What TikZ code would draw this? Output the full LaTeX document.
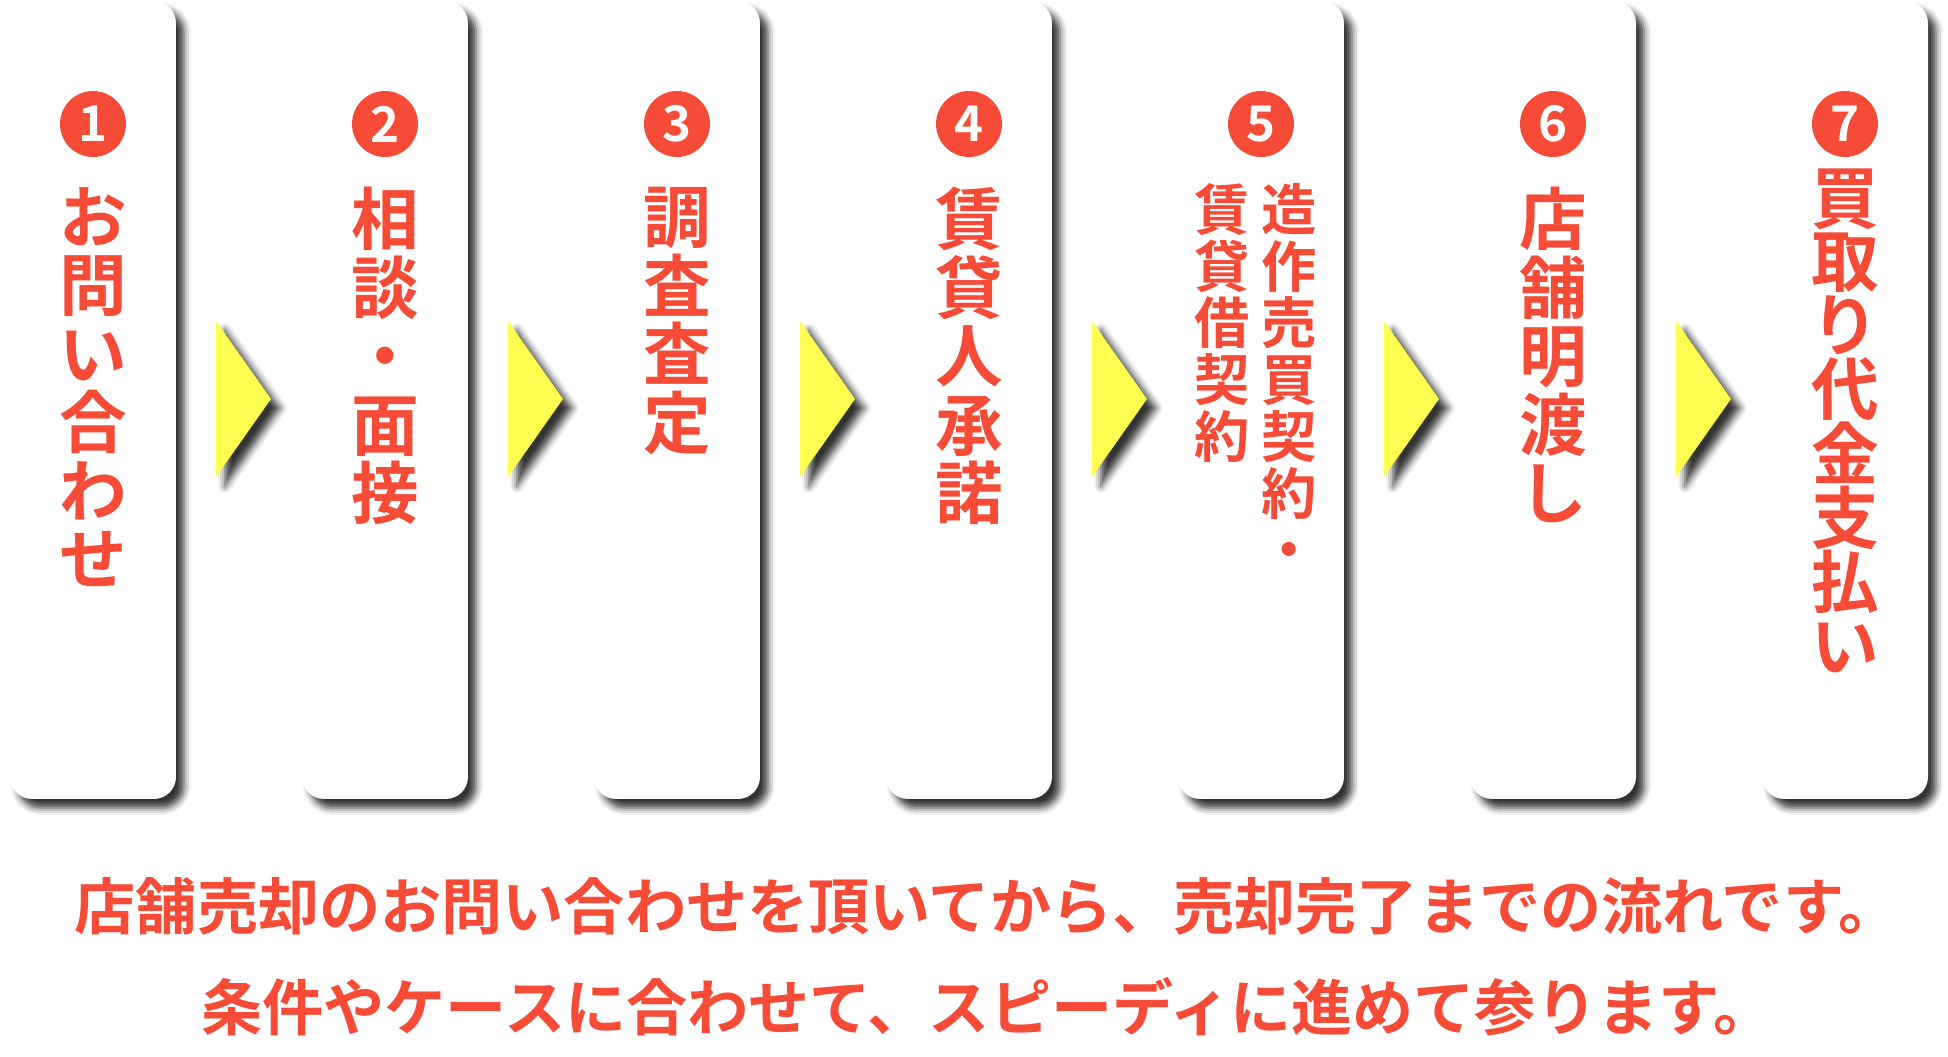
\documentclass[tikz,border=0pt]{standalone}
\usepackage{fontspec}
\setmainfont{Noto Sans CJK JP}[BoldFont={Noto Sans CJK JP Bold}]
\usetikzlibrary{shadows.blur}
\definecolor{stepred}{RGB}{245,75,55}
\definecolor{arrowyellow}{RGB}{255,255,80}

\begin{document}
\begin{tikzpicture}[x=0.02cm,y=-0.02cm,
	card/.style={rounded corners=0.44cm, fill=white, minimum width=3.32cm, minimum height=15.96cm, inner sep=0pt,
		blur shadow={shadow xshift=0.16cm, shadow yshift=-0.18cm, shadow blur radius=0.14cm, shadow opacity=80}},
	tri/.style={fill=arrowyellow,
		blur shadow={shadow xshift=0.18cm, shadow yshift=-0.18cm, shadow blur radius=0.14cm, shadow opacity=80}},
	num/.style={circle, fill=stepred, minimum size=1.32cm, inner sep=0pt, text=white, font=\bfseries\fontsize{28}{28}\selectfont},
	vlabel/.style={anchor=north, align=center, inner sep=0pt, text=stepred, font=\bfseries\fontsize{38.5}{39}\selectfont},
	vtight/.style={vlabel, font=\bfseries\fontsize{38.5}{36.3}\selectfont},
	vsmall/.style={vlabel, font=\bfseries\fontsize{31.5}{32.3}\selectfont},
	note/.style={inner sep=0pt, text=stepred, font=\bfseries\fontsize{34.8}{34.8}\selectfont}]
		\useasboundingbox (0,0) rectangle (1948,1056);
		%cards and numbers
		\foreach \ii [count=\nn] in {0,...,6}{
			\node[card] (c\nn) at (93+292*\ii,400) {};
			\node[num] (n\nn) at (93+292*\ii,124) {\nn};
		}
		%arrows between the cards
		\foreach \ii in {0,...,5}{
			\fill[tri] (216+292*\ii,321) -- (271+292*\ii,399) -- (216+292*\ii,477) -- cycle;
		}
		%steps
		\node[vlabel] (t1) at (93,187) {お\\問\\い\\合\\わ\\せ};
		\node[vlabel] (t2) at (385,187) {相\\談\\・\\面\\接};
		\node[vlabel] (t3) at (677,187) {調\\査\\査\\定};
		\node[vlabel] (t4) at (969,187) {賃\\貸\\人\\承\\諾};
		\node[vsmall] (t5) at (1289,183) {造\\作\\売\\買\\契\\約\\・};
		\node[vsmall] (t5b) at (1222,183) {賃\\貸\\借\\契\\約};
		\node[vlabel] (t6) at (1553,187) {店\\舗\\明\\渡\\し};
		\node[vtight] (t7) at (1845,168) {買\\取\\り\\代\\金\\支\\払\\い};
		%text below
		\node[note] (line1) at (987,906) {店舗売却のお問い合わせを頂いてから、売却完了までの流れです。};
		\node[note] (line2) at (988,1007) {条件やケースに合わせて、スピーディに進めて参ります。};
\end{tikzpicture}
\end{document}
